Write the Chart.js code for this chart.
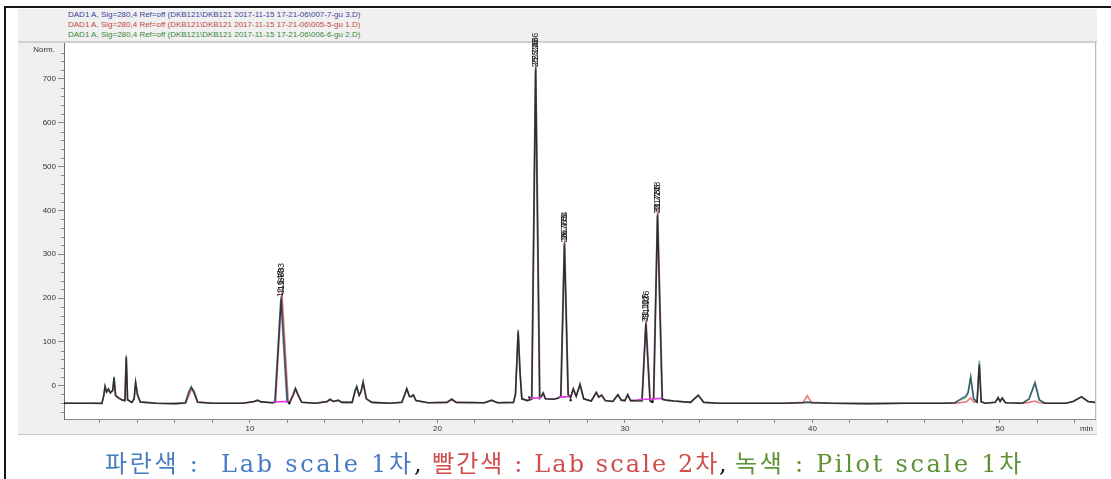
<!DOCTYPE html>
<html lang="ko">
<head>
<meta charset="utf-8">
<title>DAD1 A 280 nm overlay</title>
<script src="https://cdn.jsdelivr.net/npm/chart.js@4/dist/chart.umd.min.js"></script>
<style>
  html, body { margin: 0; padding: 0; background: #fff; }
  #page { position: relative; width: 1111px; height: 479px; overflow: hidden; background: #fff; }
  .rule { position: absolute; background: #151515; }
  #panel { position: absolute; left: 18px; top: 9px; width: 1079px; height: 425px; background: #f0f0f0; border-bottom: 1px solid #c9c9c9; }
  #sep { position: absolute; left: 18px; top: 41px; width: 1079px; height: 2px; background: #cfcfcf; }
  .sig { position: absolute; left: 68px; font: 8px "Liberation Sans", Arial, sans-serif; white-space: pre; line-height: 10px; }
  #chart { position: absolute; left: 0; top: 0; }
  .cap { position: absolute; top: 449px; font-family: "DejaVu Serif", "Noto Sans CJK KR", serif; font-size: 24px; line-height: 30px; white-space: pre; }
</style>
</head>
<body>
<div id="page">
  <div class="rule" style="left:4px;top:6px;width:2px;height:473px"></div>
  <div class="rule" style="left:4px;top:6px;width:1107px;height:2px"></div>
  <div id="panel"></div>
  <div id="sep"></div>
  <div class="sig" style="top:10px;color:#3d3f9e">DAD1 A, Sig=280,4 Ref=off (DKB121\DKB121 2017-11-15 17-21-06\007-7-gu 3.D)</div>
  <div class="sig" style="top:20px;color:#c44848">DAD1 A, Sig=280,4 Ref=off (DKB121\DKB121 2017-11-15 17-21-06\005-5-gu 1.D)</div>
  <div class="sig" style="top:30px;color:#3b8a3b">DAD1 A, Sig=280,4 Ref=off (DKB121\DKB121 2017-11-15 17-21-06\006-6-gu 2.D)</div>
  <canvas id="chart" width="1111" height="479"></canvas>
  <span class="cap" style="left:105px;color:#4a7cc2;letter-spacing:2.7px">파란색 :  Lab scale 1차</span>
  <span class="cap" style="left:414px;color:#111">,</span>
  <span class="cap" style="left:432px;color:#cf4e4e;letter-spacing:2.1px">빨간색 : Lab scale 2차</span>
  <span class="cap" style="left:719px;color:#111">,</span>
  <span class="cap" style="left:735px;color:#5e9234;letter-spacing:2.7px">녹색 : Pilot scale 1차</span>
</div>
<script>
// Retention time (min) vs. absorbance (mAU) pairs for each run
const blueTrace = [
  [0.08,-40],[1.5,-40],[2.1,-40],[2.2,-22],[2.27,-1],[2.35,-14],[2.45,-8],[2.55,-16],[2.68,-10],[2.75,19],
  [2.83,-22],[3.0,-28],[3.2,-33],[3.33,-34],[3.4,64],[3.47,-32],[3.7,-38],[3.82,-30],[3.9,7],[4.0,-20],
  [4.15,-37],[5.0,-40],[6.0,-41],[6.55,-39],[6.75,-14],[6.87,-4],[7.0,-16],[7.2,-38],[8.0,-40],[9.6,-40],
  [10.2,-36],[10.4,-33],[10.6,-37],[11.2,-39],[11.32,-37],[11.643,198],[11.97,-37],[12.1,-39],[12.3,-20],[12.42,-6],
  [12.55,-20],[12.75,-38],[13.5,-40],[14.1,-36],[14.27,-31],[14.45,-36],[14.7,-33],[14.9,-38],[15.45,-38],[15.6,-12],
  [15.69,-2],[15.82,-22],[15.92,-14],[16.03,7],[16.2,-30],[16.5,-38],[17.5,-40],[18.1,-38],[18.25,-20],[18.36,-7],
  [18.5,-24],[18.6,-25],[18.71,-21],[18.85,-34],[19.5,-39],[20.5,-38],[20.76,-31],[21.0,-38],[22.5,-39],[22.89,-33],
  [23.2,-39],[24.05,-38],[24.16,-20],[24.3,121],[24.4,30],[24.5,-30],[24.8,-34],[25.02,-31],[25.226,722],[25.44,-28],
  [25.55,-23],[25.64,-17],[25.75,-30],[26.2,-31],[26.45,-28],[26.57,-24],[26.763,322],[26.96,-20],[27.1,-27],[27.24,-8],
  [27.4,-24],[27.6,2],[27.8,-30],[28.2,-35],[28.47,-16],[28.6,-26],[28.75,-22],[28.95,-34],[29.35,-36],[29.62,-21],
  [29.8,-33],[30.0,-34],[30.14,-21],[30.3,-34],[30.9,-34],[31.107,140],[31.33,-35],[31.46,-37],[31.52,-28],[31.727,388],
  [31.98,-31],[32.2,-33],[32.6,-35],[33.5,-38],[33.9,-22],[34.2,-38],[35.0,-40],[37.0,-40],[38.5,-40],[39.5,-39],
  [39.72,-37],[40.0,-39],[41.0,-40],[43.0,-41],[45.0,-40],[47.0,-40],[47.6,-39],[47.8,-33],[48.15,-24],[48.3,-16],
  [48.44,18],[48.6,-30],[48.78,-37],[48.9,50],[49.0,-36],[49.2,-40],[49.75,-38],[49.9,-27],[50.01,-36],[50.12,-28],
  [50.3,-39],[51.2,-40],[51.55,-30],[51.87,8],[52.1,-32],[52.4,-40],[53.5,-40],[53.9,-36],[54.35,-25],[54.7,-36],
  [55.07,-38]
];
const redTrace = [
  [0.08,-40],[1.5,-40],[2.1,-41],[2.2,-24],[2.27,-3],[2.35,-15],[2.45,-9],[2.55,-17],[2.68,-12],[2.75,16],
  [2.83,-23],[3.0,-29],[3.2,-33],[3.33,-34],[3.4,66],[3.47,-32],[3.7,-38],[3.82,-31],[3.9,5],[4.0,-22],
  [4.15,-38],[5.0,-40],[6.0,-41],[6.58,-39],[6.78,-18],[6.9,-7],[7.03,-12],[7.22,-37],[8.0,-40],[9.6,-40],
  [10.2,-37],[10.4,-34],[10.6,-37],[11.2,-39],[11.36,-38],[11.703,214],[12.04,-36],[12.12,-39],[12.32,-22],[12.44,-8],
  [12.57,-21],[12.77,-38],[13.5,-40],[14.1,-37],[14.27,-32],[14.45,-36],[14.7,-34],[14.9,-38],[15.45,-38],[15.6,-14],
  [15.7,-4],[15.83,-22],[15.93,-13],[16.04,9],[16.22,-30],[16.5,-38],[17.5,-40],[18.1,-38],[18.26,-21],[18.37,-8],
  [18.5,-24],[18.6,-25],[18.72,-22],[18.86,-34],[19.5,-39],[20.5,-38],[20.76,-32],[21.0,-38],[22.5,-39],[22.89,-34],
  [23.2,-39],[24.05,-38],[24.16,-20],[24.31,126],[24.41,30],[24.5,-30],[24.8,-34],[25.04,-30],[25.246,728],[25.47,-28],
  [25.56,-24],[25.65,-18],[25.76,-30],[26.2,-31],[26.45,-28],[26.59,-25],[26.784,330],[26.98,-21],[27.1,-27],[27.25,-7],
  [27.4,-24],[27.61,4],[27.8,-30],[28.2,-35],[28.48,-15],[28.6,-26],[28.76,-21],[28.95,-34],[29.35,-36],[29.63,-20],
  [29.8,-33],[30.0,-34],[30.15,-20],[30.3,-34],[30.92,-34],[31.126,150],[31.35,-35],[31.46,-37],[31.54,-28],[31.748,398],
  [32.0,-30],[32.2,-33],[32.6,-35],[33.5,-38],[33.92,-21],[34.2,-38],[35.0,-40],[37.0,-40],[38.5,-40],[39.5,-38],
  [39.72,-23],[39.95,-38],[41.0,-40],[43.0,-41],[45.0,-40],[47.0,-40],[47.6,-40],[48.2,-37],[48.44,-28],[48.6,-37],
  [48.78,-38],[48.9,46],[49.0,-37],[49.2,-40],[49.75,-38],[49.9,-28],[50.01,-36],[50.12,-29],[50.3,-39],[51.2,-40],
  [51.55,-38],[51.87,-35],[52.1,-39],[52.4,-40],[53.5,-40],[53.9,-36],[54.35,-26],[54.7,-36],[55.07,-38]
];
const greenTrace = [
  [0.08,-40],[1.5,-40],[2.1,-40],[2.2,-22],[2.27,-2],[2.35,-14],[2.45,-7],[2.55,-16],[2.68,-10],[2.75,21],
  [2.83,-22],[3.0,-28],[3.2,-33],[3.33,-34],[3.4,70],[3.47,-32],[3.7,-38],[3.82,-29],[3.9,9],[4.0,-20],
  [4.15,-37],[5.0,-40],[6.0,-41],[6.55,-40],[6.75,-12],[6.87,-2],[7.0,-14],[7.2,-38],[8.0,-40],[9.6,-40],
  [10.2,-36],[10.4,-33],[10.6,-37],[11.2,-39],[11.34,-37],[11.663,204],[12.0,-37],[12.1,-39],[12.3,-20],[12.42,-6],
  [12.55,-20],[12.75,-38],[13.5,-40],[14.1,-36],[14.27,-31],[14.45,-36],[14.7,-33],[14.9,-38],[15.45,-38],[15.6,-12],
  [15.69,-1],[15.82,-22],[15.92,-14],[16.03,8],[16.2,-30],[16.5,-38],[17.5,-40],[18.1,-38],[18.25,-20],[18.36,-6],
  [18.5,-24],[18.6,-25],[18.71,-21],[18.85,-34],[19.5,-39],[20.5,-38],[20.76,-30],[21.0,-38],[22.5,-39],[22.89,-33],
  [23.2,-39],[24.05,-38],[24.16,-20],[24.3,128],[24.4,32],[24.5,-30],[24.8,-34],[25.03,-31],[25.236,738],[25.45,-28],
  [25.55,-23],[25.64,-16],[25.75,-30],[26.2,-31],[26.45,-28],[26.58,-24],[26.771,327],[26.97,-20],[27.1,-27],[27.24,-7],
  [27.4,-24],[27.6,3],[27.8,-30],[28.2,-35],[28.47,-16],[28.6,-26],[28.75,-22],[28.95,-34],[29.35,-36],[29.62,-21],
  [29.8,-33],[30.0,-34],[30.14,-21],[30.3,-34],[30.91,-34],[31.116,144],[31.34,-35],[31.46,-37],[31.53,-28],[31.736,392],
  [31.99,-31],[32.2,-33],[32.6,-35],[33.5,-38],[33.9,-22],[34.2,-38],[35.0,-40],[37.0,-40],[38.5,-40],[39.5,-39],
  [39.72,-38],[40.0,-39],[41.0,-40],[43.0,-41],[45.0,-40],[47.0,-40],[47.6,-39],[47.8,-34],[48.2,-26],[48.3,-15],
  [48.44,21],[48.6,-30],[48.78,-37],[48.9,57],[49.0,-36],[49.2,-40],[49.75,-38],[49.9,-27],[50.01,-36],[50.12,-28],
  [50.3,-39],[51.2,-40],[51.55,-31],[51.87,5],[52.1,-33],[52.4,-40],[53.5,-40],[53.9,-36],[54.35,-25],[54.7,-36],
  [55.07,-38]
];

// Integrated-peak retention times (labelled above each apex)
const bluePeaks  = [11.643, 25.226, 26.763, 31.107, 31.727];
const redPeaks   = [11.703, 25.246, 26.784, 31.126, 31.748];
const greenPeaks = [11.663, 25.236, 26.771, 31.116, 31.736];

// Integration baselines (gaps separate the segments) and event marks
const integrationBaselines = [
  [11.3,-37],[12.05,-36],[12.06,null],
  [24.95,-29],[25.55,-27],[25.56,null],
  [26.5,-26],[27.05,-25],[27.06,null],
  [30.65,-32],[31.97,-29]
];
const integrationMarks = [[12.1,-40],[24.9,-27],[27.1,-33],[31.46,-37]];

// Axis ticks
const xTickValues = [2,4,6,8,10,12,14,16,18,20,22,24,26,28,30,32,34,36,38,40,42,44,46,48,50,52,54];
const xTickLabels = ['10','20','30','40','50'];
const yTickValues = [0,100,200,300,400,500,600,700];
const yMinorTicks = [-60,-40,-20,20,40,60,80,120,140,160,180,220,240,260,280,320,340,360,380,420,440,460,480,520,540,560,580,620,640,660,680,720,740,760];

const seriesInfo = [
  { label: 'Lab scale 1차', data: blueTrace,  peaks: bluePeaks,  color: 'rgba(40,60,185,0.62)' },
  { label: 'Lab scale 2차', data: redTrace,   peaks: redPeaks,   color: 'rgba(215,40,55,0.62)' },
  { label: 'Pilot scale 1차', data: greenTrace, peaks: greenPeaks, color: 'rgba(25,125,30,0.62)' }
];

const tickFont = { family: 'Liberation Sans', size: 8 };

const decor = {
  id: 'chromDecor',
  beforeDraw(chart) {
    const { ctx, chartArea: a } = chart;
    ctx.save();
    ctx.fillStyle = '#ffffff';
    ctx.fillRect(a.left, a.top, a.right - a.left, a.bottom - a.top);
    ctx.restore();
  },
  beforeDatasetDraw(chart, args) {
    if (chart.data.datasets[args.index].blend) chart.ctx.globalCompositeOperation = 'multiply';
  },
  afterDatasetDraw(chart) {
    chart.ctx.globalCompositeOperation = 'source-over';
  },
  afterDraw(chart) {
    const { ctx, chartArea: a, scales } = chart;
    const xs = scales.x, ys = scales.y;
    ctx.save();
    // right frame of the plot
    ctx.strokeStyle = '#b9b9b9';
    ctx.lineWidth = 1;
    ctx.beginPath();
    ctx.moveTo(a.right + 0.5, a.top);
    ctx.lineTo(a.right + 0.5, a.bottom);
    ctx.stroke();
    // short minor ticks on the signal axis
    ctx.strokeStyle = '#8a8a8a';
    ctx.beginPath();
    yMinorTicks.forEach(v => {
      const py = Math.round(ys.getPixelForValue(v)) + 0.5;
      ctx.moveTo(a.left - 3, py);
      ctx.lineTo(a.left, py);
    });
    ctx.stroke();
    // axis unit captions
    ctx.fillStyle = '#333';
    ctx.font = '8px "Liberation Sans"';
    ctx.textAlign = 'right';
    ctx.textBaseline = 'middle';
    ctx.fillText('Norm.', a.left - 9, a.top + 7);
    ctx.fillText('min', a.right - 2, a.bottom + 10);
    // retention time labels above each integrated apex
    ctx.fillStyle = '#1e1e1e';
    ctx.font = '9px "Liberation Sans"';
    ctx.textAlign = 'left';
    ctx.textBaseline = 'middle';
    seriesInfo.forEach(s => {
      s.peaks.forEach(t => {
        const apex = s.data.find(p => p[0] === t);
        const px = xs.getPixelForValue(apex[0]);
        const py = ys.getPixelForValue(apex[1]);
        ctx.save();
        ctx.translate(px, py - 2);
        ctx.rotate(-Math.PI / 2);
        ctx.fillText(t.toFixed(3), 0, 0);
        ctx.restore();
      });
    });
    ctx.restore();
  }
};

const datasets = [
  { label: 'baseline', data: integrationBaselines, borderColor: '#e03ce0', borderWidth: 1.6, pointRadius: 0, spanGaps: false, order: 0 },
  { label: 'marks', data: integrationMarks, showLine: false, pointStyle: 'rect', pointRadius: 1.5, pointBackgroundColor: '#000', pointBorderWidth: 0, order: 0 },
  ...seriesInfo.map((s, i) => ({
    label: s.label, data: s.data, borderColor: s.color, borderWidth: 1.6,
    pointRadius: 0, tension: 0, blend: true, order: 1 + i
  }))
];

new Chart(document.getElementById('chart'), {
  type: 'line',
  data: { datasets },
  options: {
    responsive: false,
    animation: false,
    devicePixelRatio: 1,
    layout: { padding: { left: 16, top: 43, right: 16, bottom: 44 } },
    plugins: { legend: { display: false }, tooltip: { enabled: false } },
    elements: { line: { tension: 0 } },
    scales: {
      x: {
        type: 'linear', min: 0.08, max: 55.07,
        afterBuildTicks: s => { s.ticks = xTickValues.map(v => ({ value: v })); },
        afterFit: s => { s.height = 16; },
        ticks: {
          autoSkip: false, maxRotation: 0, padding: 1, color: '#333', font: tickFont,
          callback: v => xTickLabels.includes(String(v)) ? String(v) : ''
        },
        grid: { drawOnChartArea: false, tickLength: 4, color: '#8a8a8a' },
        border: { color: '#8c8c8c', width: 1 }
      },
      y: {
        type: 'linear', min: -76, max: 782,
        afterBuildTicks: s => { s.ticks = yTickValues.map(v => ({ value: v })); },
        afterFit: s => { s.width = 48; },
        ticks: { padding: 2, color: '#333', font: tickFont, callback: v => String(v) },
        grid: { drawOnChartArea: false, tickLength: 6, color: '#8a8a8a' },
        border: { color: '#6e6e6e', width: 1 }
      }
    }
  },
  plugins: [decor]
});
</script>
</body>
</html>
